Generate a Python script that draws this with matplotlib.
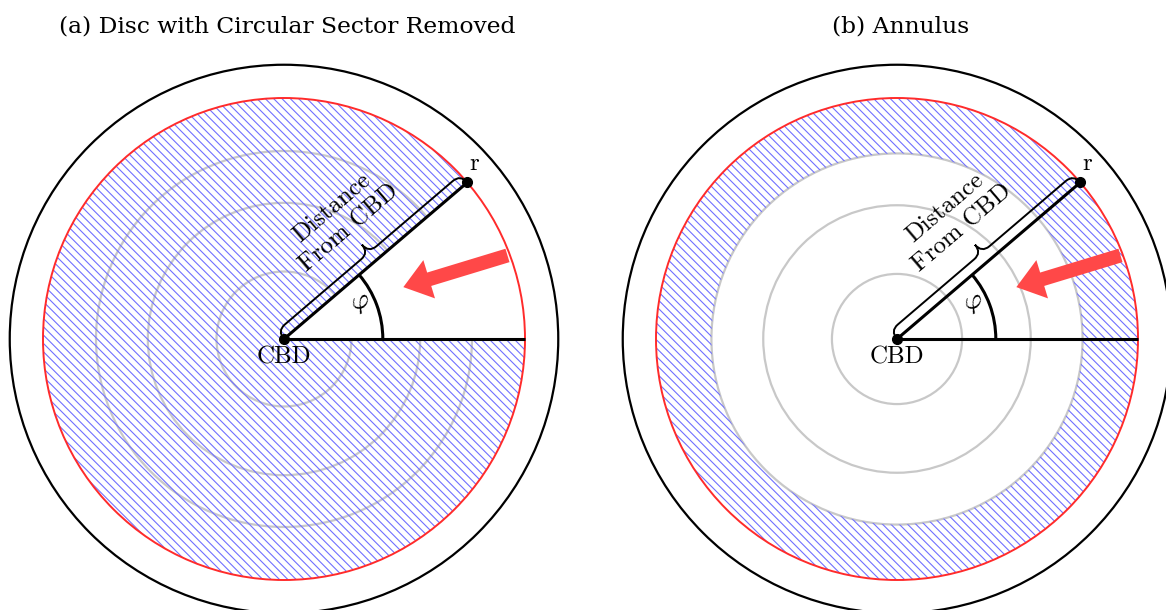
import numpy as np
import matplotlib
matplotlib.use("Agg")
import matplotlib.pyplot as plt
from matplotlib.patches import Circle, Wedge, PathPatch, Arc, FancyArrow
from matplotlib.path import Path

plt.rcParams['mathtext.fontset'] = 'cm'
plt.rcParams['hatch.linewidth'] = 0.8

# ---------------- data ----------------
titles = ["(a) Disc with Circular Sector Removed", "(b) Annulus"]
red_radius = 1.0
outer_radius = 1.138
grey_radii_a = [0.28, 0.565, 0.78]
grey_radii_b = [0.27, 0.555, 0.77]
annulus_inner = 0.77
sector_angle = 40.5          # degrees (phi)
arc_radius = 0.41
arrow_tail = [0.99, 20.5]    # [radius, angle deg]
arrow_tip = [0.54, 23.5]
label_center = "CBD"
label_point = "r"
label_brace = "Distance\nFrom CBD"
label_angle = r"$\varphi$"

# ---------------- layout ----------------
W, H = 1166, 610
S = 241.0                     # pixels per unit radius
centers = [(284, H - 339), (897, H - 339)]

fig = plt.figure(figsize=(W / 100, H / 100), dpi=100)
ax = fig.add_axes([0, 0, 1, 1])
ax.set_xlim(0, W)
ax.set_ylim(0, H)
ax.set_aspect('equal')
ax.axis('off')

hatch_col = '#7070ff'
red_col = '#ff2b2b'
grey_col = '#c8c8c8'
arrow_col = '#ff4848'
tfont = dict(family='DejaVu Serif', fontsize=16.8)
cmfont = dict(family='cmr10', fontsize=18)
bracefont = dict(family='cmr10', fontsize=18)


def polar(c, r, deg):
    t = np.deg2rad(deg)
    return c[0] + r * S * np.cos(t), c[1] + r * S * np.sin(t)


def brace(c, length_px, deg, amp=21.0, q=10.0, base=0.0):
    L = length_px
    a = amp
    verts = [(0, base), (0, a / 2), (q, a / 2), (L / 2 - q, a / 2),
             (L / 2, a / 2), (L / 2, a), (L / 2, a / 2), (L / 2 + q, a / 2),
             (L - q, a / 2), (L, a / 2), (L, base)]
    codes = [Path.MOVETO, Path.CURVE3, Path.CURVE3, Path.LINETO,
             Path.CURVE3, Path.CURVE3, Path.CURVE3, Path.CURVE3,
             Path.LINETO, Path.CURVE3, Path.CURVE3]
    t = np.deg2rad(deg)
    ct, st = np.cos(t), np.sin(t)
    out = [(c[0] + u * ct - v * st, c[1] + u * st + v * ct) for u, v in verts]
    return Path(out, codes)


for i, c in enumerate(centers):
    # grey concentric circles
    greys = grey_radii_a if i == 0 else grey_radii_b
    for g in greys:
        ax.add_patch(Circle(c, g * S, fill=False, ec=grey_col, lw=1.6, zorder=1))

    # hatched region
    if i == 0:
        ax.add_patch(Wedge(c, red_radius * S, sector_angle, 360, facecolor='none',
                           edgecolor=hatch_col, lw=0, hatch='\\\\\\\\', zorder=2))
        ax.add_patch(Wedge(c, red_radius * S, 0, sector_angle, facecolor='white',
                           edgecolor='none', zorder=2.5))
    else:
        ax.add_patch(Wedge(c, red_radius * S, 0, 360, width=(red_radius - annulus_inner) * S,
                           facecolor='none', edgecolor=hatch_col, lw=0,
                           hatch='\\\\\\\\', zorder=2))

    # red and outer circles
    ax.add_patch(Circle(c, red_radius * S, fill=False, ec=red_col, lw=1.4, zorder=3))
    ax.add_patch(Circle(c, outer_radius * S, fill=False, ec='black', lw=1.6, zorder=3))

    # radial lines
    x1, y1 = polar(c, red_radius, 0)
    ax.plot([c[0], x1], [c[1], y1], color='black', lw=2.2, zorder=4, solid_capstyle='butt')
    x2, y2 = polar(c, red_radius, sector_angle)
    ax.plot([c[0], x2], [c[1], y2], color='black', lw=2.2, zorder=4, solid_capstyle='butt')

    # angle arc
    ax.add_patch(Arc(c, 2 * arc_radius * S, 2 * arc_radius * S, theta1=0,
                     theta2=sector_angle, color='black', lw=2.2, zorder=4))

    # dots
    ax.plot([c[0], x2], [c[1], y2], 'o', color='black', ms=7, zorder=5)

    # brace
    ax.add_patch(PathPatch(brace(c, red_radius * S, sector_angle), fill=False,
                           ec='black', lw=1.4, zorder=4))

    # arrow
    tx, ty = polar(c, *arrow_tail)
    hx, hy = polar(c, *arrow_tip)
    ax.add_patch(FancyArrow(tx, ty, hx - tx, hy - ty, width=14, head_width=40,
                            head_length=27, length_includes_head=True,
                            color=arrow_col, lw=0, zorder=6))

    # texts
    t = np.deg2rad(sector_angle)
    u, v = 122, 55
    bx = c[0] + u * np.cos(t) - v * np.sin(t)
    by = c[1] + u * np.sin(t) + v * np.cos(t)
    ax.text(bx, by, label_brace, rotation=sector_angle, rotation_mode='anchor',
            ha='center', va='center', multialignment='center', linespacing=1.25,
            zorder=7, **bracefont)
    ax.text(c[0], c[1] - 25, label_center, ha='center', va='baseline', zorder=7, **cmfont)
    ax.text(x2 + 7, y2 + 19, label_point, ha='center', va='center', zorder=7, **cmfont)
    px, py = polar(c, 84.5 / S, 26)
    ax.text(px, py, label_angle, ha='center', va='center', rotation=20,
            fontsize=20, zorder=7)

    ax.text(c[0] + (3 if i == 0 else 4), H - 32, titles[i], ha='center', va='baseline', **tfont)

fig.savefig('out.png', dpi=100)
